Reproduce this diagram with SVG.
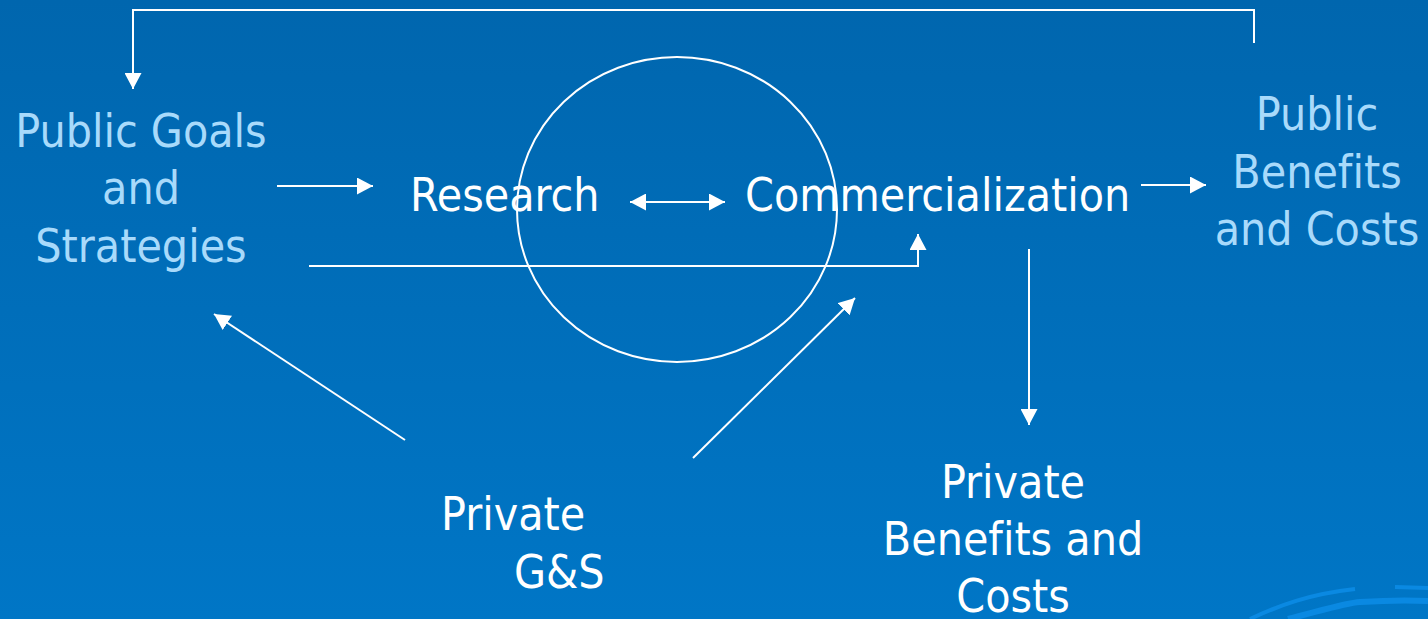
<svg xmlns="http://www.w3.org/2000/svg" width="1428" height="619" viewBox="0 0 1428 619">
<defs>
<linearGradient id="bg" x1="0" y1="0" x2="0" y2="1">
<stop offset="0" stop-color="#0066AE"/>
<stop offset="1" stop-color="#0076C6"/>
</linearGradient>
<marker id="ah" viewBox="0 0 16 17" refX="16" refY="8.5" markerWidth="16" markerHeight="17" markerUnits="userSpaceOnUse" orient="auto-start-reverse">
<path d="M0,0 L16,8.5 L0,17 Z" fill="#FFFFFF"/>
</marker>
<style>
.t{font-family:"DejaVu Sans Condensed","DejaVu Sans",sans-serif;font-stretch:condensed;font-size:46px;font-variant-ligatures:none;}
.lb{fill:#A8DAFB;}
.wh{fill:#FFFFFF;}
.c{stroke:#FFFFFF;stroke-width:2;fill:none;}
.sw{stroke:#0A89E2;fill:none;stroke-linecap:butt;}
</style>
</defs>
<rect x="0" y="0" width="1428" height="619" fill="url(#bg)"/>
<g id="swoosh">
<path class="sw" stroke-width="4" d="M1250,619 C1280,605 1310,594 1355,589"/>
<path class="sw" stroke-width="6" d="M1288,619 C1320,611 1345,603 1360,602 C1390,600 1410,600 1428,601"/>
<path class="sw" stroke-width="4" d="M1395,587 L1428,588"/>
</g>
<g id="connectors">
<path class="c" d="M1254,43 V10 H133 V89" marker-end="url(#ah)"/>
<path class="c" d="M277,186 H373" marker-end="url(#ah)"/>
<path class="c" d="M630,202 H725" marker-start="url(#ah)" marker-end="url(#ah)"/>
<path class="c" d="M309,266 H918 V234" marker-end="url(#ah)"/>
<path class="c" d="M1141,185 H1206" marker-end="url(#ah)"/>
<path class="c" d="M1029,249 V425" marker-end="url(#ah)"/>
<path class="c" d="M405,440 L214,314" marker-end="url(#ah)"/>
<path class="c" d="M693,458 L855,298" marker-end="url(#ah)"/>
</g>
<g id="circle">
<ellipse cx="677" cy="209.5" rx="160" ry="152.5" class="c"/>
</g>
<g id="public-goals">
<text class="t lb" text-anchor="middle" x="141" y="147">Public Goals</text>
<text class="t lb" text-anchor="middle" x="141" y="204">and</text>
<text class="t lb" text-anchor="middle" x="141" y="262">Strategies</text>
</g>
<g id="research">
<text class="t wh" x="410" y="211">Research</text>
</g>
<g id="commercialization">
<text class="t wh" x="745" y="211">Commercialization</text>
</g>
<g id="public-benefits">
<text class="t lb" text-anchor="middle" x="1317" y="130">Public</text>
<text class="t lb" text-anchor="middle" x="1317" y="188">Benefits</text>
<text class="t lb" text-anchor="middle" x="1317" y="245">and Costs</text>
</g>
<g id="private-gs">
<text class="t wh" x="441" y="530">Private</text>
<text class="t wh" x="514" y="588">G&amp;S</text>
</g>
<g id="private-benefits">
<text class="t wh" text-anchor="middle" x="1013" y="498">Private</text>
<text class="t wh" text-anchor="middle" x="1013" y="555">Benefits and</text>
<text class="t wh" text-anchor="middle" x="1013" y="612">Costs</text>
</g>
</svg>
